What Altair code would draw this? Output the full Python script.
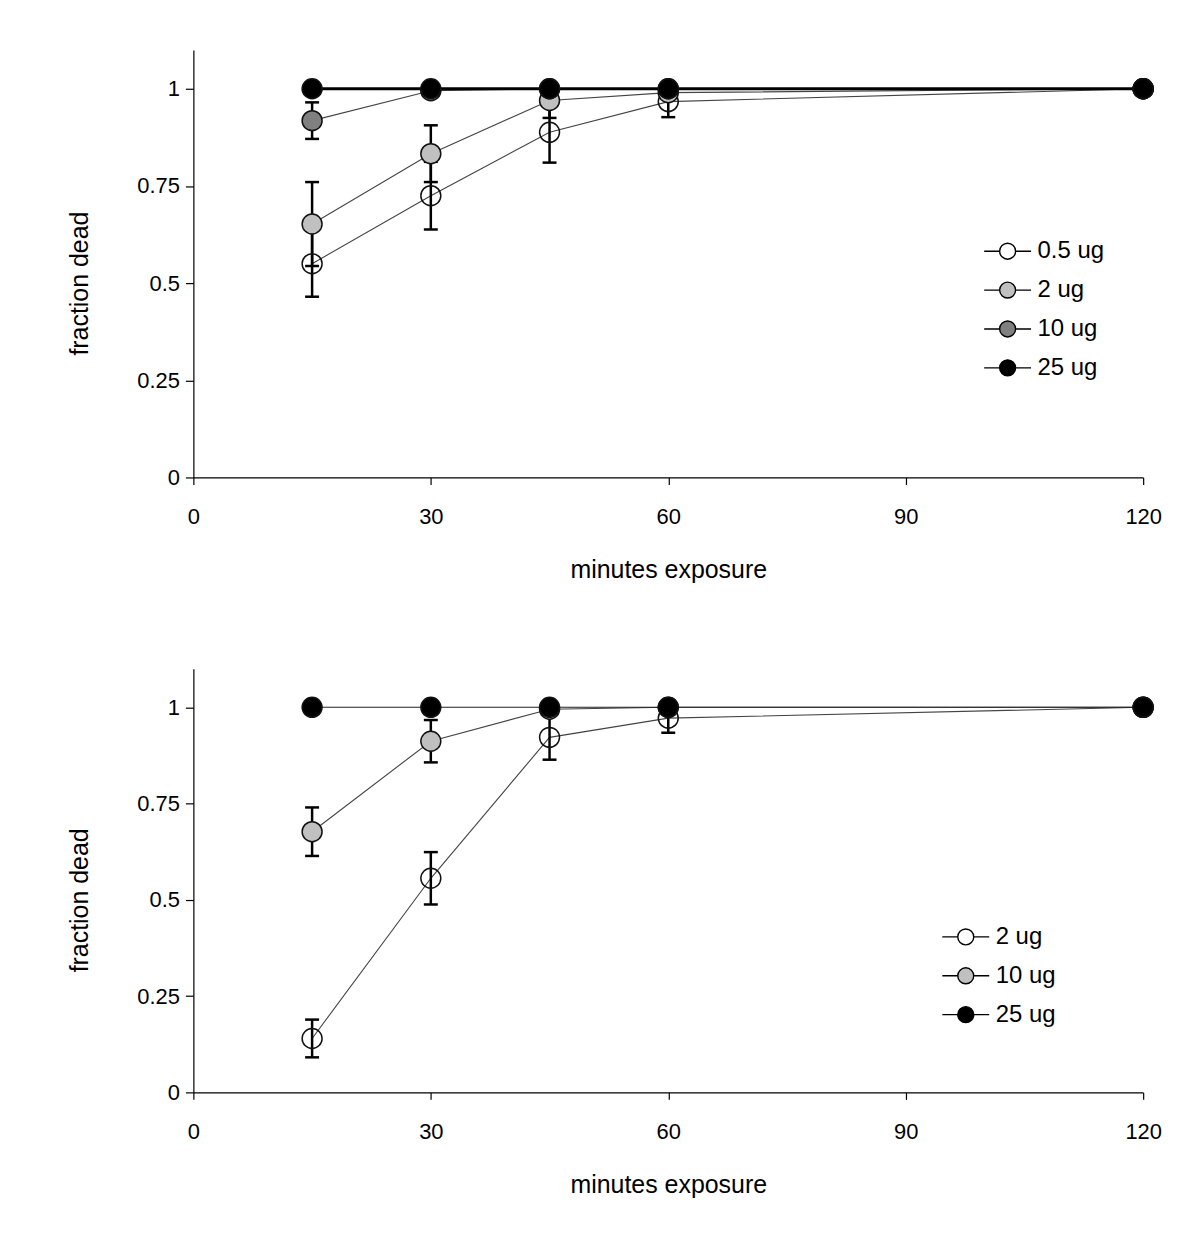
import altair as alt
import pandas as pd

minutes = [15, 30, 45, 60, 120]
x_ticks = [0, 30, 60, 90, 120]
y_ticks = [0, 0.25, 0.5, 0.75, 1]

# ---- top panel ----
top_labels = ["0.5 ug", "2 ug", "10 ug", "25 ug"]
top_mean_05 = [0.550, 0.725, 0.888, 0.967, 1.000]
top_err_05 = [0.085, 0.087, 0.078, 0.040, 0.0]
top_mean_2 = [0.652, 0.833, 0.970, 0.990, 1.000]
top_err_2 = [0.108, 0.073, 0.045, 0.0, 0.0]
top_mean_10 = [0.918, 0.995, 1.000, 1.000, 1.000]
top_err_10 = [0.047, 0.0, 0.0, 0.0, 0.0]
top_mean_25 = [1.000, 1.000, 1.000, 1.000, 1.000]
top_err_25 = [0.0, 0.0, 0.0, 0.0, 0.0]

# ---- bottom panel ----
bot_labels = ["2 ug", "10 ug", "25 ug"]
bot_mean_2 = [0.140, 0.556, 0.922, 0.972, 1.000]
bot_err_2 = [0.049, 0.068, 0.058, 0.038, 0.0]
bot_mean_10 = [0.677, 0.912, 0.995, 1.000, 1.000]
bot_err_10 = [0.063, 0.055, 0.0, 0.0, 0.0]
bot_mean_25 = [1.000, 1.000, 1.000, 1.000, 1.000]
bot_err_25 = [0.0, 0.0, 0.0, 0.0, 0.0]

FONT = "Liberation Sans"


def make_df(labels, means, errs):
    rows = []
    for i, (lab, m, e) in enumerate(zip(labels, means, errs)):
        for t, v, d in zip(minutes, m, e):
            rows.append({"series": lab, "line_series": "L" + lab, "idx": i,
                         "minutes": t, "frac": v, "err": d, "lo": v - d, "hi": v + d})
    return pd.DataFrame(rows)


def panel(df, labels, fills, line_colors, thick, w, h, lx, ly):
    xs = alt.Scale(domain=[0, 120], nice=False, zero=False)
    ys = alt.Scale(domain=[0, 1.1], nice=False, zero=True)
    xaxis = alt.Axis(values=x_ticks, title="minutes exposure", labelFlush=False)
    yaxis = alt.Axis(values=y_ticks, labelExpr="'' + datum.value", title="fraction dead",
                     labelFlush=False,
                     titleX=-114, titleY=h - 0.5 * h / 1.1, titleAngle=-90,
                     titleBaseline="middle", titleAlign="center")

    def X():
        return alt.X("minutes:Q", scale=xs, axis=xaxis, title="minutes exposure")

    def Y(f):
        return alt.Y(f + ":Q", scale=ys, axis=yaxis, title="fraction dead")

    base = alt.Chart(df)
    if thick:
        sw = alt.condition(alt.datum.series == thick, alt.value(3), alt.value(1.1))
    else:
        sw = alt.value(1.1)
    lines = base.mark_line().encode(
        x=X(), y=Y("frac"),
        stroke=alt.Stroke("line_series:N",
                          scale=alt.Scale(domain=["L" + l for l in labels], range=line_colors),
                          legend=None),
        strokeWidth=sw,
    )
    eb = base.transform_filter(alt.datum.err > 0)
    rules = eb.mark_rule(color="black", strokeWidth=2.5).encode(
        x=X(), y=Y("lo"), y2="hi:Q")
    cap_lo = eb.mark_tick(orient="horizontal", size=14, thickness=2.5, color="black", opacity=1).encode(
        x=X(), y=Y("lo"))
    cap_hi = eb.mark_tick(orient="horizontal", size=14, thickness=2.5, color="black", opacity=1).encode(
        x=X(), y=Y("hi"))
    sym = "M-2.94,0L-1,0M1,0L2.94,0M-1,0A1,1 0 1,1 1,0A1,1 0 1,1 -1,0Z"
    points = base.mark_point(shape="circle", filled=True, size=400, stroke="#111111",
                             strokeWidth=1.5, opacity=1).encode(
        x=X(), y=Y("frac"),
        fill=alt.Fill("series:N", scale=alt.Scale(domain=labels, range=fills),
                      legend=alt.Legend(orient="none", legendX=lx, legendY=ly, title=None,
                                        symbolType=sym, symbolSize=256,
                                        symbolStrokeColor="black", symbolStrokeWidth=1.4,
                                        labelFontSize=24, labelFont=FONT, labelColor="black",
                                        labelOffset=18, rowPadding=15)),
        order=alt.Order("idx:Q"),
    )
    return (alt.layer(lines, rules, cap_lo, cap_hi, points)
            .properties(width=w, height=h))


top_df = make_df(top_labels,
                 [top_mean_05, top_mean_2, top_mean_10, top_mean_25],
                 [top_err_05, top_err_2, top_err_10, top_err_25])
bot_df = make_df(bot_labels,
                 [bot_mean_2, bot_mean_10, bot_mean_25],
                 [bot_err_2, bot_err_10, bot_err_25])

top = panel(top_df, top_labels, ["transparent", "#c0c0c0", "#808080", "#000000"],
            ["#444444", "#444444", "#444444", "#000000"], "25 ug", 953, 429, 805, 190)
bottom = panel(bot_df, bot_labels, ["transparent", "#c0c0c0", "#000000"],
               ["#444444", "#444444", "#222222"], None, 953, 425, 763, 257)

chart = (
    alt.vconcat(top, bottom, spacing=87)
    .resolve_scale(fill="independent", stroke="independent", x="independent", y="independent")
    .resolve_legend(fill="independent", stroke="independent")
    .properties(padding={"left": 59, "top": 40, "right": 30, "bottom": 20})
    .configure_view(stroke=None)
    .configure_axis(grid=False, domainColor="black", tickColor="black", labelColor="black",
                    titleColor="black", labelFont=FONT, titleFont=FONT, titleFontWeight="normal",
                    labelFontSize=22, titleFontSize=25, domainWidth=1.2, tickWidth=1.2)
    .configure_axisX(tickSize=7, labelPadding=22, titlePadding=30)
    .configure_axisY(tickSize=8, labelPadding=6)
)

chart.save("out.html", embed_options={"renderer": "svg", "actions": False})
